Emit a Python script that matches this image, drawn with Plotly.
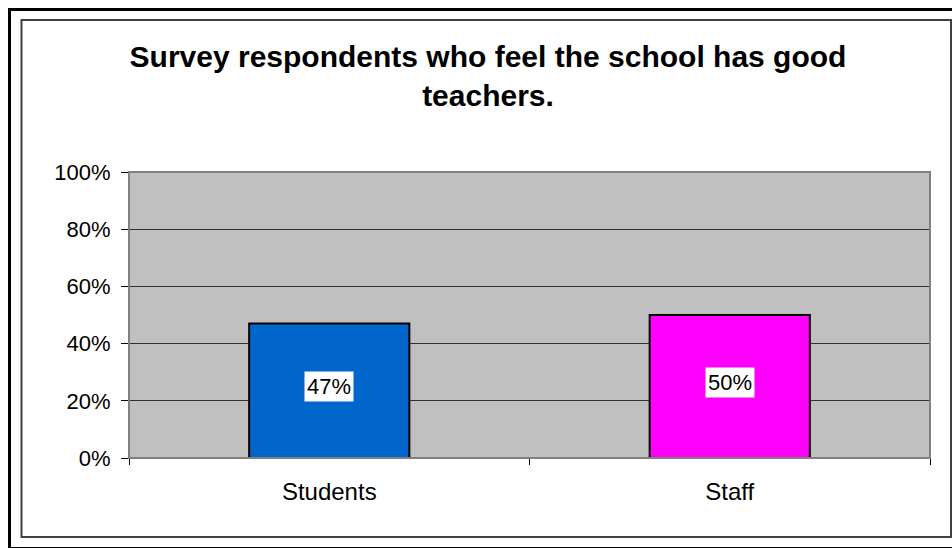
import plotly.graph_objects as go

# Survey results
categories = ["Students", "Staff"]
values = [47, 50]
bar_colors = ["#0066CC", "#FF00FF"]
y_ticks = [0, 20, 40, 60, 80, 100]
y_tick_labels = [f"{t}%" for t in y_ticks]
title_text = "Survey respondents who feel the school has good<br>teachers."

W, H = 952, 548
L, R, T, B = 129, 930, 172, 458  # plot area in pixels


def px_x(px):
    return (px - L) / (R - L)


def px_y(py):
    return (B - py) / (B - T)


fig = go.Figure()
fig.add_trace(go.Bar(
    x=categories,
    y=values,
    width=0.4,
    marker=dict(color=bar_colors, line=dict(color="black", width=2)),
    hoverinfo="skip",
))

# value labels on white boxes in the middle of each bar
for cat, v in zip(categories, values):
    fig.add_annotation(
        x=cat, y=v / 2, xref="x", yref="y",
        text=f"{v}%", showarrow=False,
        bgcolor="white", borderpad=2, yshift=4,
        font=dict(family="Liberation Sans, Arial", size=22, color="black"),
    )

# plot-area frame, chart inner border and outer border
fig.add_shape(type="rect", xref="paper", yref="paper", x0=0, y0=0, x1=1, y1=1,
              line=dict(color="#808080", width=2), layer="above")
fig.add_shape(type="rect", xref="paper", yref="paper",
              x0=px_x(21.5), y0=px_y(537), x1=px_x(951), y1=px_y(20),
              line=dict(color="#404040", width=2))
fig.add_shape(type="rect", xref="paper", yref="paper",
              x0=px_x(9.5), y0=px_y(548.5), x1=px_x(965), y1=px_y(9.5),
              line=dict(color="black", width=3))

fig.update_layout(
    width=W, height=H,
    margin=dict(l=L, r=W - R, t=T, b=H - B, pad=0),
    paper_bgcolor="white",
    plot_bgcolor="#C0C0C0",
    showlegend=False,
    font=dict(family="Liberation Sans, Arial", color="black"),
    title=dict(
        text=title_text,
        x=488 / W, xref="container", xanchor="center",
        y=1 - 67 / H, yref="container", yanchor="top",
        font=dict(family="Liberation Sans, Arial", size=30, color="black", weight="bold"),
    ),
    xaxis=dict(
        showline=True, linecolor="black", linewidth=1,
        ticks="outside", tickson="boundaries", ticklen=6, tickcolor="black",
        tickfont=dict(size=24), showgrid=False, ticklabelstandoff=12,
    ),
    yaxis=dict(
        range=[0, 100], tickvals=y_ticks, ticktext=y_tick_labels,
        showline=True, linecolor="black", linewidth=1,
        ticks="outside", ticklen=7, tickcolor="black",
        tickfont=dict(size=22), showgrid=True, gridcolor="#303030", gridwidth=1,
        zeroline=False, ticklabelstandoff=6,
    ),
)

fig.write_html("out.html")
